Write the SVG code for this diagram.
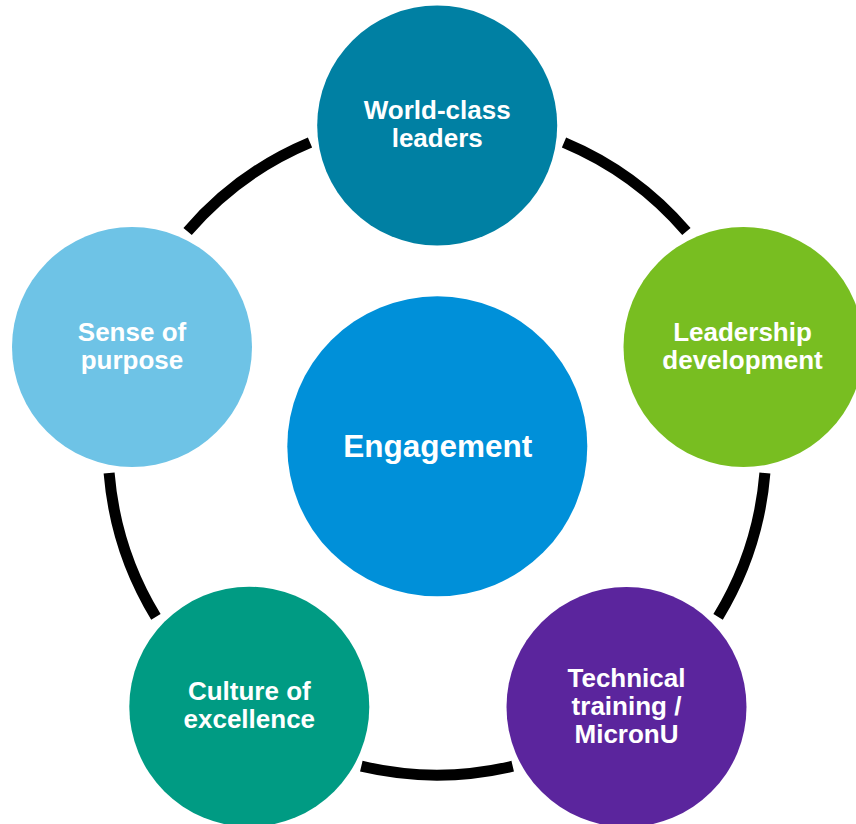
<svg xmlns="http://www.w3.org/2000/svg" width="856" height="824" viewBox="0 0 856 824">
<style>
.ring{fill:none;stroke:#000;stroke-width:11;stroke-linecap:butt}
.lbl{font-family:"Liberation Sans",Arial,sans-serif;font-weight:bold;font-size:26px;fill:#fff;text-anchor:middle}
.big{font-size:31.5px}
</style>
<rect width="856" height="824" fill="#fff"/>
<g id="connectors">
<path class="ring" d="M 564 142.5 A 329 329 0 0 1 686.4 231.5"/>
<path class="ring" d="M 764.9 473 A 329 329 0 0 1 718.1 616.9"/>
<path class="ring" d="M 512.7 766.2 A 329 329 0 0 1 361.3 766.2"/>
<path class="ring" d="M 155.9 616.9 A 329 329 0 0 1 109.1 473"/>
<path class="ring" d="M 187.6 231.5 A 329 329 0 0 1 310 142.5"/>
</g>
<g id="engagement">
<circle cx="437.3" cy="446.3" r="150" fill="#0090D9"/>
<text class="lbl big" x="437.7" y="456.5">Engagement</text>
</g>
<g id="world-class-leaders">
<circle cx="437.2" cy="125.5" r="120" fill="#0080A3"/>
<text class="lbl" x="437.2" y="119">World-class</text>
<text class="lbl" x="437.2" y="147">leaders</text>
</g>
<g id="leadership-development">
<circle cx="743.5" cy="347" r="120" fill="#78BE21"/>
<text class="lbl" x="742.5" y="341">Leadership</text>
<text class="lbl" x="742.5" y="369">development</text>
</g>
<g id="technical-training">
<circle cx="626.5" cy="707" r="120" fill="#5B259D"/>
<text class="lbl" x="626.5" y="687.3">Technical</text>
<text class="lbl" x="626.5" y="715">training /</text>
<text class="lbl" x="626.5" y="742.7">MicronU</text>
</g>
<g id="culture-of-excellence">
<circle cx="249.3" cy="706.7" r="120" fill="#009B83"/>
<text class="lbl" x="249.3" y="700">Culture of</text>
<text class="lbl" x="249.3" y="727.5">excellence</text>
</g>
<g id="sense-of-purpose">
<circle cx="132" cy="347" r="120" fill="#6EC3E6"/>
<text class="lbl" x="132" y="340.7">Sense of</text>
<text class="lbl" x="132" y="368.5">purpose</text>
</g>
</svg>
